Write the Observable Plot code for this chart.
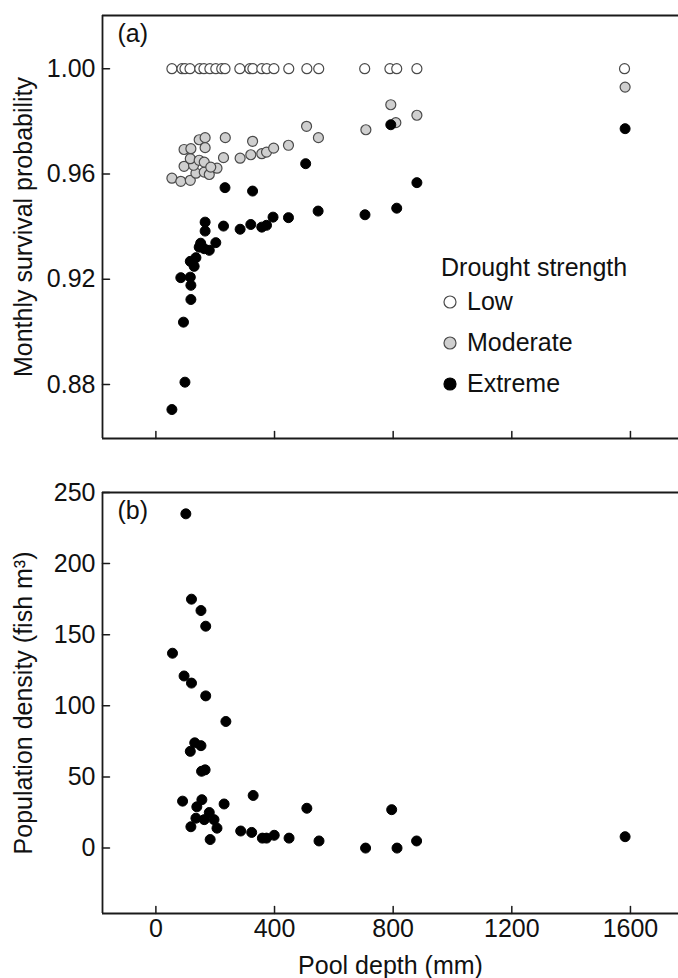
<!DOCTYPE html>
<html><head><meta charset="utf-8">
<script src="https://cdn.jsdelivr.net/npm/d3@7"></script>
<script src="https://cdn.jsdelivr.net/npm/@observablehq/plot@0.6"></script>
<style>
body{margin:0;background:#fff;}
#wrap{width:678px;height:978px;position:relative;font-family:"Liberation Sans",Arial,sans-serif;color:#111;}
#wrap svg{display:block;}
.leg{position:absolute;font-size:25px;line-height:1;white-space:nowrap;}
.leg .it{display:flex;align-items:center;}
</style></head><body><div id="wrap"></div>
<script>
// ---- axes / tick values ----
const xDomain = [-180, 1762];
const xTicks = [0, 400, 800, 1200, 1600];
const yDomainA = [0.8595, 1.0202];
const yTicksA = [0.88, 0.92, 0.96, 1.00];
const yDomainB = [-46, 250];
const yTicksB = [0, 50, 100, 150, 200, 250];
const droughtLevels = ["Low", "Moderate", "Extreme"];

// ---- panel (a): monthly survival probability ----
const lowDepth = [54, 88, 98, 115, 148, 162, 182, 202, 222, 233, 283, 317, 327, 357, 374, 398, 448, 509, 549, 704, 789, 812, 880, 1580];
const lowSurv  = [1.00, 1.00, 1.00, 1.00, 1.00, 1.00, 1.00, 1.00, 1.00, 1.00, 1.00, 1.00, 1.00, 1.00, 1.00, 1.00, 1.00, 1.00, 1.00, 1.00, 1.00, 1.00, 1.00, 1.00];

const modDepth = [54, 84, 116, 135, 163, 180, 206, 95, 127, 116, 146, 163, 185, 95, 118, 146, 166, 166, 234, 228, 284, 326, 320, 357, 373, 397, 447, 508, 548, 708, 792, 809, 880, 1582];
const modSurv  = [0.9584, 0.9572, 0.9576, 0.9603, 0.9607, 0.9598, 0.9622, 0.9629, 0.9633, 0.9658, 0.9652, 0.9645, 0.9626, 0.9693, 0.9696, 0.9730, 0.9738, 0.9700, 0.9738, 0.9662, 0.9660, 0.9724, 0.9673, 0.9677, 0.9683, 0.9698, 0.9709, 0.9781, 0.9738, 0.9768, 0.9863, 0.9795, 0.9823, 0.9930];

const extDepth = [505, 792, 1582, 233, 326, 547, 705, 812, 880, 447, 395, 373, 357, 320, 284, 228, 166, 166, 202, 180, 151, 146, 163, 135, 116, 129, 84, 116, 118, 118, 93, 98, 54];
const extSurv  = [0.9639, 0.9787, 0.9772, 0.9548, 0.9535, 0.9459, 0.9445, 0.9470, 0.9567, 0.9434, 0.9436, 0.9405, 0.9398, 0.9408, 0.9390, 0.9402, 0.9417, 0.9383, 0.9339, 0.9310, 0.9337, 0.9322, 0.9316, 0.9282, 0.9268, 0.9249, 0.9206, 0.9208, 0.9177, 0.9123, 0.9037, 0.8809, 0.8705];

// ---- panel (b): population density ----
const densDepth = [101, 120, 152, 168, 56, 95, 120, 168, 236, 131, 152, 116, 154, 166, 90, 155, 138, 230, 328, 509, 795, 180, 135, 163, 196, 118, 206, 286, 323, 359, 373, 399, 449, 183, 550, 707, 813, 879, 1582];
const density   = [235, 175, 167, 156, 137, 121, 116, 107, 89, 74, 72, 68, 54, 55, 33, 34, 29, 31, 37, 28, 27, 25, 21, 20, 20, 15, 14, 12, 11, 7, 7, 9, 7, 6, 5, 0, 0, 5, 8];

const styles = {
  Low: {fill: "#ffffff", stroke: "#4a4a4a"},
  Moderate: {fill: "#cfcfcf", stroke: "#4a4a4a"},
  Extreme: {fill: "#000000", stroke: "#000000"}
};

const toRows = (xs, ys) => xs.map((x, i) => ({x, y: ys[i]}));
const lowRows = toRows(lowDepth, lowSurv);
const modRows = toRows(modDepth, modSurv);
const extRows = toRows(extDepth, extSurv);
const densRows = toRows(densDepth, density);

const lineShape = {draw(ctx, l) { ctx.moveTo(0, 0); ctx.lineTo(0, -l); }};
const AX = "#1a1a1a";
const FONT = {fontFamily: "'Liberation Sans', Arial, sans-serif", fontSize: "25px", color: "#111", background: "#fff"};

function frameMarks(yDom, yTicks) {
  return [
    Plot.ruleX([xDomain[0]], {stroke: AX, strokeWidth: 1.8}),
    Plot.ruleY([yDom[0]], {stroke: AX, strokeWidth: 1.8}),
    Plot.ruleY([yDom[1]], {stroke: AX, strokeWidth: 1.8}),
    Plot.vector(yTicks, {x: () => xDomain[0], y: d => d, length: 7, rotate: 90, anchor: "start", shape: lineShape, stroke: AX, strokeWidth: 1.5}),
    Plot.vector(xTicks, {x: d => d, y: () => yDom[0], length: 7, rotate: 0, anchor: "start", shape: lineShape, stroke: AX, strokeWidth: 1.5})
  ];
}

const dotR = 5;
const plotA = Plot.plot({
  width: 678, height: 470,
  marginLeft: 102, marginRight: 0, marginTop: 15, marginBottom: 32,
  style: FONT,
  x: {domain: xDomain, axis: null},
  y: {domain: yDomainA, ticks: yTicksA, tickFormat: ".2f", tickSize: 0, tickPadding: 7,
      label: "Monthly survival probability", labelAnchor: "center", labelOffset: 88, labelArrow: false},
  marks: [
    ...frameMarks(yDomainA, yTicksA),
    Plot.dot(lowRows, {x: "x", y: "y", r: dotR, fill: styles.Low.fill, stroke: styles.Low.stroke, strokeWidth: 1.2}),
    Plot.dot(modRows, {x: "x", y: "y", r: dotR, fill: styles.Moderate.fill, stroke: styles.Moderate.stroke, strokeWidth: 1.2}),
    Plot.dot(extRows, {x: "x", y: "y", r: dotR, fill: styles.Extreme.fill, stroke: styles.Extreme.stroke, strokeWidth: 1}),
    Plot.text(["(a)"], {frameAnchor: "top-left", dx: 15, dy: 9, lineAnchor: "top", textAnchor: "start"})
  ]
});

const plotB = Plot.plot({
  width: 678, height: 508,
  marginLeft: 102, marginRight: 0, marginTop: 22, marginBottom: 65,
  style: FONT,
  x: {domain: xDomain, ticks: xTicks, tickFormat: "d", tickSize: 0, tickPadding: 6,
      label: "Pool depth (mm)", labelAnchor: "center", labelOffset: 60, labelArrow: false},
  y: {domain: yDomainB, ticks: yTicksB, tickFormat: "d", tickSize: 0, tickPadding: 7,
      label: "Population density (fish m³)", labelAnchor: "center", labelOffset: 88, labelArrow: false},
  marks: [
    ...frameMarks(yDomainB, yTicksB),
    Plot.dot(densRows, {x: "x", y: "y", r: dotR, fill: "#000", stroke: "#000", strokeWidth: 1}),
    Plot.text(["(b)"], {frameAnchor: "top-left", dx: 15, dy: 9, lineAnchor: "top", textAnchor: "start"})
  ]
});

const wrap = document.getElementById("wrap");
wrap.appendChild(plotA);
wrap.appendChild(plotB);

// legend (HTML overlay, circles styled like the marks)
const leg = document.createElement("div");
leg.className = "leg";
leg.style.left = "441px";
leg.style.top = "255px";
let html = `<div style="margin-bottom:9px">Drought strength</div>`;
droughtLevels.forEach(k => {
  const s = styles[k];
  html += `<div class="it" style="margin-bottom:16px"><svg width="18" height="18" style="margin-right:8px"><circle cx="9" cy="9" r="${dotR+1}" fill="${s.fill}" stroke="${s.stroke}" stroke-width="1.2"/></svg><span>${k}</span></div>`;
});
leg.innerHTML = html;
wrap.appendChild(leg);
</script>
</body></html>
